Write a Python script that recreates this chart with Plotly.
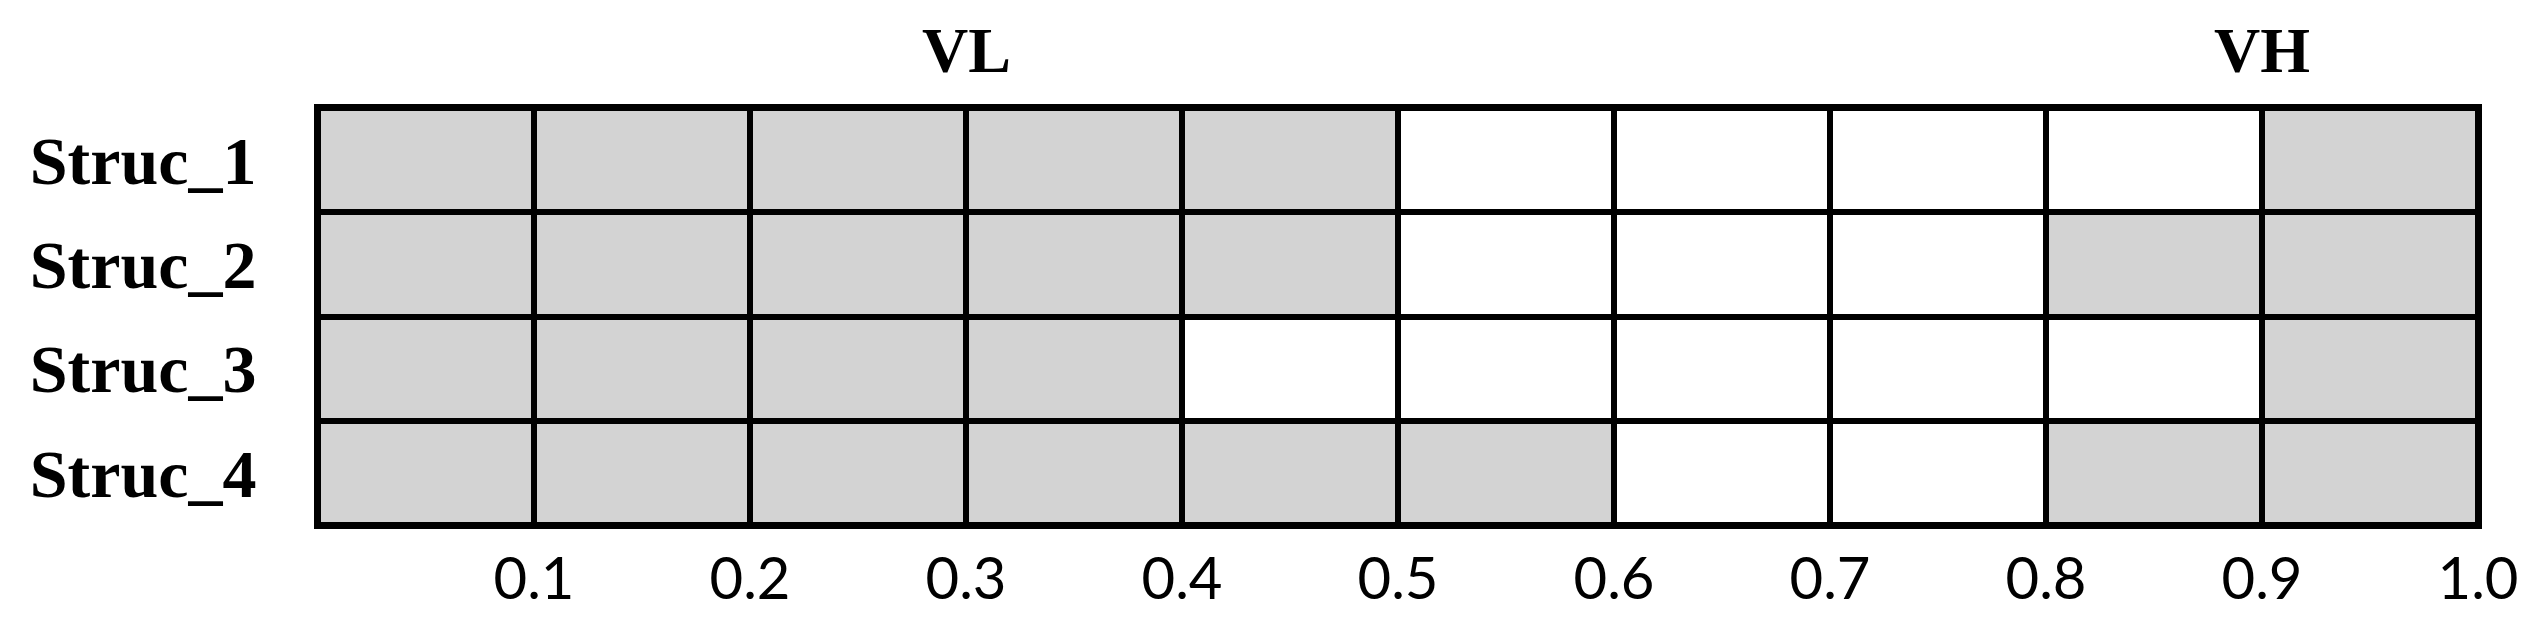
import plotly.graph_objects as go

# chart data
structures = ["Struc_1", "Struc_2", "Struc_3", "Struc_4"]
bin_edges = [0.0, 0.1, 0.2, 0.3, 0.4, 0.5, 0.6, 0.7, 0.8, 0.9, 1.0]
tick_vals = [0.1, 0.2, 0.3, 0.4, 0.5, 0.6, 0.7, 0.8, 0.9, 1.0]
tick_text = ["0.1", "0.2", "0.3", "0.4", "0.5", "0.6", "0.7", "0.8", "0.9", "1.0"]

# 1 = shaded (grey), 0 = empty (white)
struc_1 = [1, 1, 1, 1, 1, 0, 0, 0, 0, 1]
struc_2 = [1, 1, 1, 1, 1, 0, 0, 0, 1, 1]
struc_3 = [1, 1, 1, 1, 0, 0, 0, 0, 0, 1]
struc_4 = [1, 1, 1, 1, 1, 1, 0, 0, 1, 1]

group_labels = ["VL", "VH"]
group_pos = [0.3, 0.9]

z = [struc_1, struc_2, struc_3, struc_4]

fig = go.Figure(go.Heatmap(
    z=z, x=bin_edges, y=structures,
    colorscale=[[0, "#ffffff"], [1, "#d3d3d3"]],
    zmin=0, zmax=1, showscale=False,
    xgap=6, ygap=6, hoverinfo="skip"))

for lab, pos in zip(group_labels, group_pos):
    fig.add_annotation(x=pos, y=1, xref="x", yref="paper", yanchor="bottom",
                       yshift=20, text="<b>%s</b>" % lab, showarrow=False,
                       font=dict(family="Liberation Serif", size=64, color="black"))

fig.update_xaxes(range=[0, 1], tickvals=tick_vals, ticktext=tick_text,
                 showgrid=False, zeroline=False, ticks="",
                 showline=True, mirror=True, linecolor="black", linewidth=4,
                 tickfont=dict(family="Lato", size=58, color="black"),
                 ticklabelstandoff=0)
fig.update_yaxes(autorange="reversed", showgrid=False, zeroline=False, ticks="",
                 showline=True, mirror=True, linecolor="black", linewidth=4,
                 tickfont=dict(family="Liberation Serif", size=68, color="black"),
                 tickprefix="<b>", ticksuffix="</b>", ticklabelstandoff=44)

fig.update_layout(width=2530, height=625, plot_bgcolor="black",
                  paper_bgcolor="white",
                  margin=dict(l=310, r=60, t=100, b=108))

fig.write_html("out.html")
